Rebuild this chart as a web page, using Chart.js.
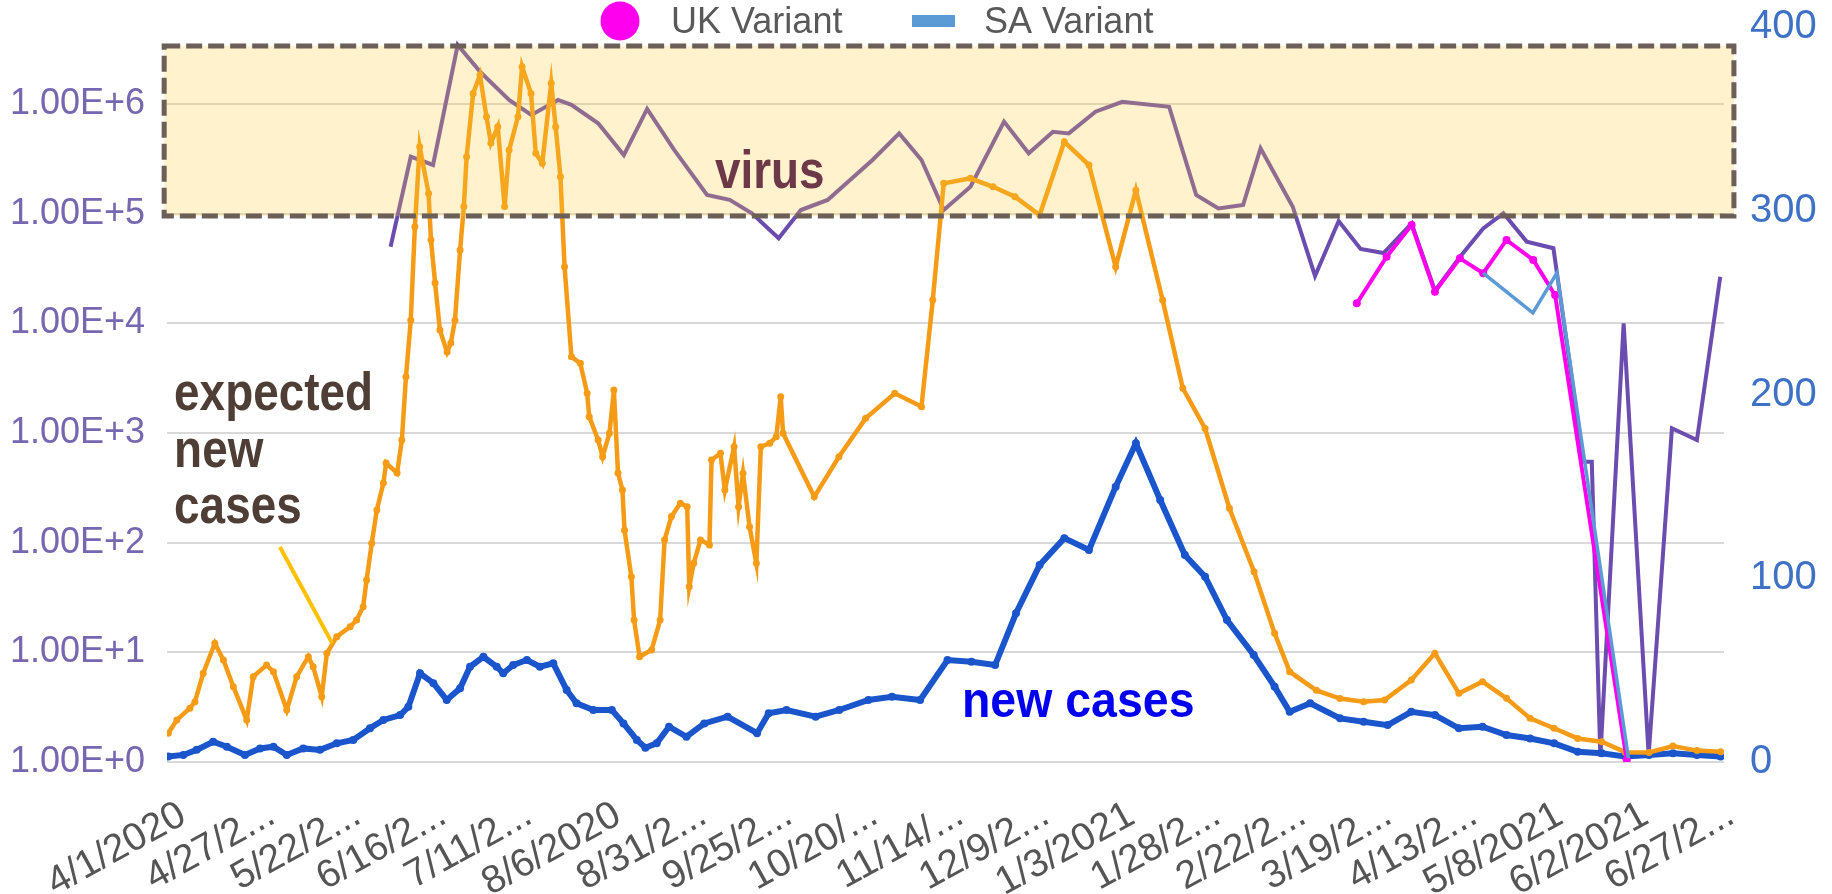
<!DOCTYPE html>
<html><head><meta charset="utf-8">
<script src="https://cdn.jsdelivr.net/npm/chart.js@4.4.1/dist/chart.umd.min.js"></script>
<style>html,body{margin:0;padding:0;background:#fff;}#wrap{width:1832px;height:894px;position:relative;}</style>
</head><body><div id="wrap"><canvas id="c" width="1832" height="894"></canvas></div>
<script>
// ---------- DATA ----------
// x axis: days since 4/1/2020
const xTickDays = [0,26,51,76,101,127,152,177,202,227,252,277,302,327,352,377,402,427,452];
const xTickLabels = ['4/1/2020','4/27/2...','5/22/2...','6/16/2...','7/11/2...','8/6/2020','8/31/2...','9/25/2...','10/20/...','11/14/...','12/9/2...','1/3/2021','1/28/2...','2/22/2...','3/19/2...','4/13/2...','5/8/2021','6/2/2021','6/27/2...'];
const leftTickValues = [1,10,100,1000,10000,100000,1000000];
const rightTickValues = [0,100,200,300,400];

const expectedDays = [-4.3,-1.8,2.0,3.5,5.9,9.3,11.8,14.7,18.6,20.5,24.4,26.4,30.3,33.2,36.6,38.0,40.5,42.0,44.9,48.8,50.7,52.6,53.6,55.1,56.6,58.5,59.3,62.5,63.9,65.1,66.5,67.7,69.1,71.7,72.4,73.6,75.0,77.1,78.2,79.4,80.9,82.0,82.8,84.7,86.7,88.6,89.9,91.9,93.9,95.2,97.8,99.0,101.6,103.0,104.9,107.5,108.8,110.2,111.4,113.4,116.0,118.0,118.6,121.2,122.5,124.5,125.8,127.0,128.3,128.9,130.9,131.7,133.3,136.8,139.3,140.6,142.6,145.2,147.2,147.8,149.1,151.1,153.7,154.3,156.9,158.2,160.9,162.2,163.5,165.4,167.4,168.7,171.3,173.2,174.5,175.2,184.3,191.5,199.3,207.8,215.6,218.9,222.1,229.9,236.5,242.9,250.1,257.3,264.5,272.3,278.2,286.0,291.9,298.4,305.5,312.7,318.7,323.1,330.9,337.8,344.7,350.8,358.6,365.5,372.5,379.4,386.4,393.3,400.3,407.2,414.2,421.1,428.0,435.0,442.0,448.9];
const expectedCases = [1.83,2.42,3.09,3.55,6.44,12.1,8.51,4.86,2.42,6.0,7.66,6.65,2.98,6.0,9.12,7.39,3.94,9.8,13.9,17.1,19.7,26.1,45.6,98.6,199,350,532,432,863,3260,10700,76000,408000,153000,57500,23300,8690,5470,6620,10700,46600,116000,330000,1250000,1840000,766000,441000,621000,116000,380000,766000,2190000,1250000,355000,288000,1550000,621000,217000,32800,4960,4320,2300,1410,863,608,993,2470,432,302,130,49,19.7,9.12,10.5,19.7,106,173,229,213,39.7,64.9,106,95.2,567,653,302,750,213,429,140,64.9,750,805,925,2140,993,262,608,1360,2300,1740,16300,189000,210000,176000,143000,97200,453000,278000,32800,164000,16300,2560,1100,206,54.3,14.9,6.66,4.50,3.79,3.55,3.68,5.59,9.8,4.23,5.40,3.81,2.50,2.03,1.64,1.53,1.23,1.22,1.40,1.27,1.24];

const newCaseDays = [-4.3,0.1,4.0,8.8,12.8,18.1,22.5,26.4,30.3,35.1,40.0,44.9,49.7,54.6,58.5,63.4,65.8,69.2,73.1,77.0,80.9,83.8,87.7,91.6,93.5,96.4,100.4,104.2,108.1,112.0,114.9,119.8,125.2,128.6,132.5,135.0,138.3,141.9,147.0,152.2,159.0,167.6,171.0,176.2,184.7,191.6,200.1,207.0,215.2,223.2,230.2,237.1,243.2,250.1,257.3,264.5,272.3,278.2,285.3,292.5,298.4,304.8,312.6,318.7,323.1,329.1,337.8,344.7,351.7,358.6,365.5,372.5,379.4,386.4,393.3,400.3,407.2,414.2,421.1,428.0,435.0,442.0,448.9];
const newCases = [1.12,1.16,1.29,1.53,1.38,1.16,1.33,1.38,1.16,1.33,1.29,1.48,1.59,2.03,2.42,2.68,3.19,6.44,5.23,3.68,4.70,7.39,9.12,7.39,6.44,7.66,8.51,7.39,7.94,4.54,3.43,2.98,2.98,2.25,1.59,1.35,1.48,2.10,1.70,2.25,2.59,1.83,2.78,2.98,2.59,2.98,3.68,3.94,3.68,8.51,8.22,7.66,22.7,62.5,110,85.8,324,805,245,77.2,48.9,19.7,9.46,4.86,2.87,3.43,2.50,2.33,2.17,2.87,2.68,2.03,2.10,1.76,1.64,1.48,1.24,1.20,1.12,1.16,1.20,1.16,1.12];

const virusDays = [60.6,66.5,73.0,80.2,86.7,95.2,101.7,109.5,113.4,121.2,128.7,135.5,143.4,153.0,159.6,166.1,173.9,180.4,188.2,201.3,209.1,215.6,222.1,229.9,239.7,246.9,254.0,258.6,266.4,274.2,287.9,295.8,302.3,309.5,314.6,324.0,330.5,337.4,343.8,350.5,358.7,365.5,372.8,379.6,385.5,392.3,400.1,408.9,411.3,413.8,420.6,427.9,434.7,442.0,448.8];
const virus = [280.4,329.4,324.9,390.2,375.7,360.3,352.1,360.3,357.6,347.6,330.3,355.4,333.1,308.6,305.9,298.6,285.0,300.4,305.9,327.6,342.1,327.6,300.4,313.1,348.5,331.3,343.0,342.1,353.9,359.3,356.6,308.6,301.3,303.1,334.0,302.2,264.5,294.4,279.2,277.0,293.0,256.5,274.8,290.4,298.6,283.2,279.6,163.4,163.4,2.9,238.7,3.8,181.6,175.2,264.1];

const ukDays = [342.7,351.4,358.7,365.5,372.8,379.6,386.4,394.2,400.6,421.5];
const ukVariant = [249.6,275.0,292.2,255.9,274.1,266.0,284.1,273.2,254.1,1.1];

const saDays = [379.6,394.1,401.1,422.0];
const saVariant = [266.0,244.4,266.1,2.0];

// annotation anchors (data units)
const boxDays = [-5.5, 452.8];
const boxVirusRange = [297.1, 389.7];

// ---------- CHART ----------
const ORANGE = '#f59b16', BLUE = '#1b55cc', PURPLE = '#6b4caf', MAGENTA = '#ff00ee', SABLUE = '#5b9bd5';
const FONT = "'Liberation Sans', Arial, sans-serif";
Chart.defaults.font.family = FONT;

function zip(xs, ys) { return xs.map((x, i) => ({x: x, y: ys[i]})); }

function drawText(ctx, str, px, py, size, color, sx) {
  ctx.save();
  ctx.translate(px, py);
  ctx.scale(sx, 1);
  ctx.font = 'bold ' + size + 'px ' + FONT;
  ctx.fillStyle = color;
  ctx.textAlign = 'left';
  ctx.textBaseline = 'alphabetic';
  ctx.fillText(str, 0, 0);
  ctx.restore();
}

const overlayPlugin = {
  id: 'overlay',
  afterDatasetsDraw(chart) {
    const {ctx, scales} = chart;
    const x = scales.x, yL = scales.y, yR = scales.yR;
    ctx.save();
    const bx1 = x.getPixelForValue(boxDays[0]), bx2 = x.getPixelForValue(boxDays[1]);
    const by1 = yR.getPixelForValue(boxVirusRange[1]), by2 = yR.getPixelForValue(boxVirusRange[0]);
    ctx.fillStyle = 'rgba(255,204,51,0.25)';
    ctx.fillRect(bx1, by1, bx2 - bx1, by2 - by1);
    ctx.setLineDash([16, 6]);
    ctx.lineWidth = 5;
    ctx.strokeStyle = '#6b5f57';
    ctx.strokeRect(bx1, by1, bx2 - bx1, by2 - by1);
    ctx.setLineDash([]);

    drawText(ctx, 'virus', x.getPixelForValue(155.3), yR.getPixelForValue(312.4), 54, '#6d3848', 0.85);
    const ex = x.getPixelForValue(-2.6);
    drawText(ctx, 'expected', ex, yL.getPixelForValue(1621), 54, '#4f3e36', 0.85);
    drawText(ctx, 'new', ex, yL.getPixelForValue(489.7), 54, '#4f3e36', 0.85);
    drawText(ctx, 'cases', ex, yL.getPixelForValue(151), 54, '#4f3e36', 0.85);
    drawText(ctx, 'new cases', x.getPixelForValue(227.4), yL.getPixelForValue(2.57), 50, '#0000f0', 0.93);

    ctx.beginPath();
    ctx.moveTo(x.getPixelForValue(28.3), yL.getPixelForValue(91.4));
    ctx.lineTo(x.getPixelForValue(43.5), yL.getPixelForValue(12.2));
    ctx.lineWidth = 4;
    ctx.strokeStyle = '#ffc000';
    ctx.stroke();
    ctx.restore();
  },
  afterDraw(chart) {
    const ctx = chart.ctx;
    const ds = chart.data.datasets;
    const uk = ds.find(d => d.label === 'UK Variant');
    const sa = ds.find(d => d.label === 'SA Variant');
    ctx.save();
    ctx.fillStyle = uk.borderColor;
    ctx.beginPath();
    ctx.arc(620, 21, 19.5, 0, Math.PI * 2);
    ctx.fill();
    ctx.fillStyle = sa.borderColor;
    ctx.fillRect(912, 15, 43, 12);
    ctx.font = '36px ' + FONT;
    ctx.fillStyle = '#595959';
    ctx.textBaseline = 'alphabetic';
    ctx.fillText(uk.label, 671, 33);
    ctx.fillText(sa.label, 984, 33);
    ctx.restore();
  }
};

function noPad(s) { s.paddingTop = 0; s.paddingBottom = 0; s.paddingLeft = 0; s.paddingRight = 0; }

new Chart(document.getElementById('c'), {
  type: 'line',
  data: {
    datasets: [
      {label: 'SA Variant', data: zip(saDays, saVariant), yAxisID: 'yR', borderColor: SABLUE, backgroundColor: SABLUE, borderWidth: 3.5, pointRadius: 0, order: 0},
      {label: 'UK Variant', data: zip(ukDays, ukVariant), yAxisID: 'yR', borderColor: MAGENTA, backgroundColor: MAGENTA, borderWidth: 4, pointRadius: 4, pointBorderWidth: 0, order: 1},
      {label: 'expected new cases', data: zip(expectedDays, expectedCases), yAxisID: 'y', borderColor: ORANGE, backgroundColor: ORANGE, borderWidth: 4.5, pointRadius: 3.5, pointBorderWidth: 0, order: 2},
      {label: 'new cases', data: zip(newCaseDays, newCases), yAxisID: 'y', borderColor: BLUE, backgroundColor: BLUE, borderWidth: 6, pointRadius: 4, pointBorderWidth: 0, order: 3},
      {label: 'virus', data: zip(virusDays, virus), yAxisID: 'yR', borderColor: PURPLE, backgroundColor: PURPLE, borderWidth: 4, pointRadius: 0, order: 4}
    ]
  },
  options: {
    responsive: false,
    animation: false,
    events: [],
    layout: {padding: {top: 27, left: 0, right: 0, bottom: 0}},
    plugins: {legend: {display: false}, tooltip: {enabled: false}},
    scales: {
      x: {
        type: 'linear', min: -4.67, max: 449.9, bounds: 'data',
        grid: {display: false}, border: {display: false},
        afterBuildTicks: s => { s.ticks = xTickDays.map(v => ({value: v})); },
        afterFit: s => { s.height = 132; noPad(s); },
        ticks: {autoSkip: false, minRotation: 29, maxRotation: 29, padding: 22, color: '#555555',
                font: {size: 39}, callback: (v, i) => xTickLabels[i]}
      },
      y: {
        type: 'logarithmic', position: 'left', min: 1, max: 5.04e6,
        grid: {color: '#d9d9d9', lineWidth: 2, drawTicks: false}, border: {display: false},
        afterBuildTicks: s => { s.ticks = leftTickValues.map(v => ({value: v})); },
        afterFit: s => { s.width = 167; noPad(s); },
        ticks: {padding: 22, color: '#7767b0', font: {size: 36},
                callback: v => Number(v).toExponential(2).toUpperCase()}
      },
      yR: {
        type: 'linear', position: 'right', min: 0, max: 400,
        grid: {display: false, drawTicks: false}, border: {display: false},
        afterBuildTicks: s => { s.ticks = rightTickValues.map(v => ({value: v})); },
        afterFit: s => { s.width = 108; noPad(s); },
        ticks: {padding: 26, color: '#3f72c6', font: {size: 40}}
      }
    }
  },
  plugins: [overlayPlugin]
});
</script>
</body></html>
